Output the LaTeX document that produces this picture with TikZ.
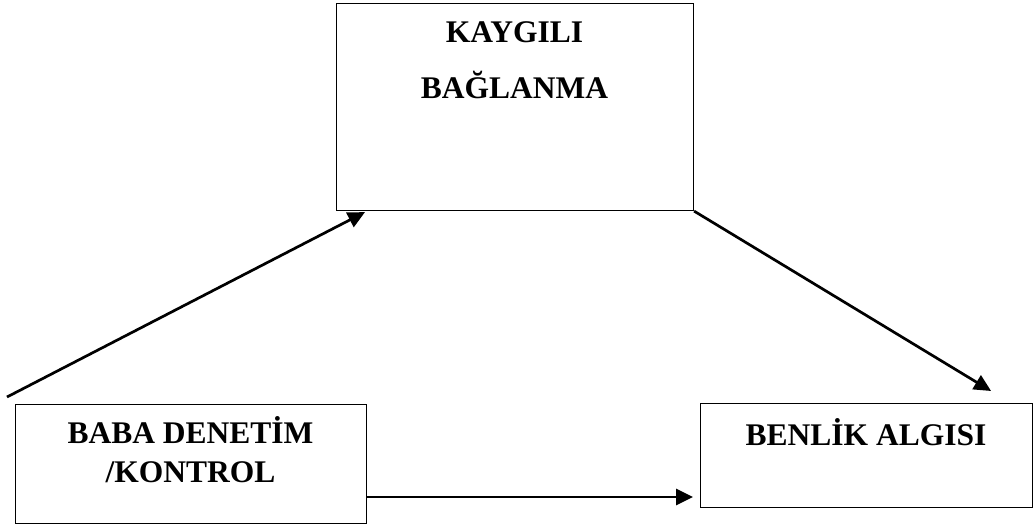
\documentclass[tikz,border=0pt]{standalone}
\usepackage{fontspec}
\setmainfont{Liberation Serif}
\usetikzlibrary{arrows.meta,calc}
\begin{document}
\begin{tikzpicture}[x=1pt,y=-1pt,
  box/.style={draw,line width=1.1pt,inner sep=0pt,anchor=north west},
  lbl/.style={font=\bfseries\fontsize{31.5}{31.5}\selectfont,anchor=base,inner sep=0pt},
  conn/.style={line width=2.7pt,-{Triangle[length=17pt,width=16pt]}}]
\useasboundingbox (0,0) rectangle (1034,527);
\node[box,minimum width=357pt,minimum height=207pt] (kb) at (336,3) {};
\node[box,minimum width=351pt,minimum height=119pt] (lb) at (15,404) {};
\node[box,minimum width=332pt,minimum height=104pt] (rb) at (700,403) {};
\node[lbl] (t1) at (514.5,43) {KAYGILI};
\node[lbl] (t2) at (514.5,99) {BAĞLANMA};
\node[lbl] (t3) at (190.5,443) {BABA DENETİM};
\node[lbl] (t4) at (190.5,482) {/KONTROL};
\node[lbl] (t5) at (866,445) {BENLİK ALGISI};
\coordinate (s1) at (7,397);
\coordinate (e1) at ($(kb.south west)+(29,1)$);
\coordinate (e2) at ($(rb.north east)+(-42,-12)$);
\coordinate (s3) at (lb.east |- 0,497);
\coordinate (e3) at ($(rb.west |- 0,497)+(-7,0)$);
\draw[conn] (s1) -- (e1);
\draw[conn] (kb.south east) -- (e2);
\draw[conn] (s3) -- (e3);
\end{tikzpicture}
\end{document}
